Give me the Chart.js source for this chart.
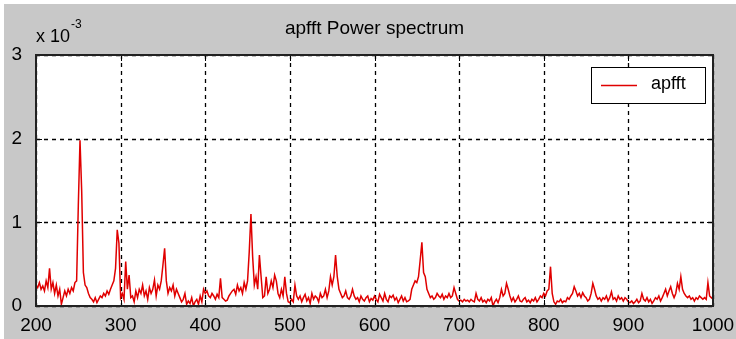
<!DOCTYPE html>
<html>
<head>
<meta charset="utf-8">
<title>apfft Power spectrum</title>
<script src="https://cdn.jsdelivr.net/npm/chart.js@4.4.1/dist/chart.umd.min.js"></script>
<style>
  html, body { margin: 0; padding: 0; background: #ffffff; }
  #wrap { width: 736px; height: 339px; }
</style>
</head>
<body>
<div id="wrap"><canvas id="spectrum" width="736" height="339"></canvas></div>
<script>
// frequency axis: 200 .. 1000, step 2
var freqStart = 200;
var freqStep = 2;

// power values, in units of 1e-3 (5 values per 10 Hz)
var power = [
    0.25, 0.22, 0.28, 0.20, 0.24,   0.18, 0.30, 0.22, 0.45, 0.20,  // 200
    0.28, 0.15, 0.25, 0.12, 0.20,   0.02, 0.10, 0.18, 0.12, 0.20,  // 220
    0.15, 0.22, 0.18, 0.28, 0.30,   1.20, 1.98, 1.37, 0.40, 0.25,  // 240
    0.22, 0.15, 0.10, 0.08, 0.05,   0.10, 0.04, 0.08, 0.12, 0.10,  // 260
    0.15, 0.12, 0.18, 0.14, 0.20,   0.25, 0.30, 0.45, 0.91, 0.75,  // 280
    0.10, 0.15, 0.08, 0.53, 0.20,   0.37, 0.10, 0.12, 0.05, 0.18,  // 300
    0.10, 0.20, 0.15, 0.25, 0.12,   0.18, 0.08, 0.22, 0.15, 0.20,  // 320
    0.31, 0.12, 0.25, 0.20, 0.30,   0.49, 0.69, 0.30, 0.15, 0.22,  // 340
    0.18, 0.25, 0.12, 0.20, 0.15,   0.10, 0.05, 0.08, 0.15, 0.02,  // 360
    0.06, 0.03, 0.10, 0.00, 0.05,   0.08, 0.02, 0.12, 0.05, 0.20,  // 380
    0.15, 0.18, 0.12, 0.10, 0.15,   0.12, 0.08, 0.14, 0.10, 0.33,  // 400
    0.10, 0.08, 0.06, 0.07, 0.12,   0.15, 0.18, 0.20, 0.14, 0.25,  // 420
    0.18, 0.22, 0.15, 0.28, 0.20,   0.30, 0.65, 1.10, 0.59, 0.25,  // 440
    0.35, 0.20, 0.61, 0.35, 0.10,   0.12, 0.35, 0.15, 0.20, 0.30,  // 460
    0.22, 0.37, 0.30, 0.15, 0.10,   0.20, 0.12, 0.35, 0.15, 0.05,  // 480
    0.04, 0.08, 0.05, 0.25, 0.12,   0.08, 0.12, 0.05, 0.10, 0.14,  // 500
    0.06, 0.10, 0.03, 0.15, 0.08,   0.12, 0.10, 0.05, 0.15, 0.10,  // 520
    0.12, 0.20, 0.10, 0.18, 0.35,   0.25, 0.35, 0.61, 0.35, 0.20,  // 540
    0.15, 0.10, 0.12, 0.18, 0.10,   0.08, 0.12, 0.20, 0.12, 0.08,  // 560
    0.10, 0.05, 0.12, 0.08, 0.06,   0.10, 0.12, 0.05, 0.09, 0.07,  // 580
    0.12, 0.08, 0.05, 0.14, 0.10,   0.06, 0.15, 0.08, 0.05, 0.12,  // 600
    0.10, 0.13, 0.07, 0.10, 0.04,   0.08, 0.12, 0.06, 0.10, 0.05,  // 620
    0.06, 0.08, 0.20, 0.25, 0.30,   0.28, 0.35, 0.55, 0.76, 0.40,  // 640
    0.35, 0.20, 0.15, 0.10, 0.12,   0.08, 0.10, 0.15, 0.12, 0.10,  // 660
    0.14, 0.08, 0.12, 0.10, 0.15,   0.10, 0.12, 0.22, 0.15, 0.08,  // 680
    0.06, 0.07, 0.05, 0.08, 0.06,   0.07, 0.05, 0.08, 0.06, 0.05,  // 700
    0.15, 0.08, 0.06, 0.10, 0.05,   0.07, 0.04, 0.08, 0.06, 0.10,  // 720
    0.00, 0.05, 0.08, 0.04, 0.10,   0.20, 0.12, 0.15, 0.27, 0.20,  // 740
    0.12, 0.06, 0.10, 0.05, 0.08,   0.12, 0.06, 0.05, 0.08, 0.10,  // 760
    0.05, 0.07, 0.04, 0.08, 0.06,   0.10, 0.05, 0.08, 0.12, 0.10,  // 780
    0.15, 0.12, 0.18, 0.20, 0.47,   0.15, 0.05, 0.02, 0.06, 0.05,  // 800
    0.08, 0.04, 0.06, 0.05, 0.10,   0.08, 0.12, 0.15, 0.23, 0.18,  // 820
    0.12, 0.15, 0.10, 0.16, 0.12,   0.10, 0.06, 0.08, 0.15, 0.27,  // 840
    0.20, 0.12, 0.08, 0.10, 0.06,   0.10, 0.08, 0.12, 0.06, 0.10,  // 860
    0.17, 0.08, 0.10, 0.06, 0.12,   0.08, 0.10, 0.06, 0.10, 0.08,  // 880
    0.05, 0.04, 0.06, 0.03, 0.05,   0.08, 0.04, 0.06, 0.15, 0.08,  // 900
    0.06, 0.10, 0.05, 0.08, 0.03,   0.06, 0.10, 0.08, 0.12, 0.06,  // 920
    0.10, 0.15, 0.20, 0.12, 0.18,   0.23, 0.15, 0.10, 0.15, 0.27,  // 940
    0.20, 0.35, 0.20, 0.15, 0.12,   0.10, 0.12, 0.08, 0.10, 0.06,  // 960
    0.10, 0.08, 0.12, 0.10, 0.08,   0.10, 0.08, 0.28, 0.12, 0.10,  // 980
    0.08                                                            // 1000
];

var xTicks = [200, 300, 400, 500, 600, 700, 800, 900, 1000];
var yTicks = [0, 1, 2, 3];
var seriesName = "apfft";
var chartTitle = "apfft Power spectrum";
var yExponent = "-3";

var points = [];
for (var i = 0; i < power.length; i++) {
    points.push({ x: freqStart + i * freqStep, y: power[i] });
}

var FONT = "'Liberation Sans', Arial, sans-serif";

// figure background, dashed grid, box, inward ticks, title, exponent and legend
var matlabLook = {
    id: "matlabLook",
    beforeDraw: function (chart) {
        var ctx = chart.ctx;
        var a = chart.chartArea;
        ctx.save();
        ctx.fillStyle = "#ffffff";
        ctx.fillRect(0, 0, chart.width, chart.height);
        ctx.fillStyle = "#c8c8c8";
        ctx.fillRect(4, 4, chart.width - 4, chart.height - 4);
        ctx.fillStyle = "#ffffff";
        ctx.fillRect(a.left, a.top, a.right - a.left, a.bottom - a.top);
        ctx.restore();
    },
    beforeDatasetsDraw: function (chart) {
        var ctx = chart.ctx;
        var a = chart.chartArea;
        var xs = chart.scales.x, ys = chart.scales.y;
        ctx.save();
        ctx.strokeStyle = "#000000";
        ctx.lineWidth = 1.3;
        ctx.setLineDash([4, 4]);
        ctx.beginPath();
        xTicks.forEach(function (v) {
            var px = Math.round(xs.getPixelForValue(v)) + 0.5;
            ctx.moveTo(px, a.top); ctx.lineTo(px, a.bottom);
        });
        yTicks.forEach(function (v) {
            var py = Math.round(ys.getPixelForValue(v)) + 0.5;
            ctx.moveTo(a.left, py); ctx.lineTo(a.right, py);
        });
        ctx.stroke();
        ctx.restore();
    },
    afterDraw: function (chart) {
        var ctx = chart.ctx;
        var a = chart.chartArea;
        var xs = chart.scales.x, ys = chart.scales.y;
        ctx.save();

        // inward tick marks
        ctx.strokeStyle = "#000000";
        ctx.lineWidth = 1;
        ctx.setLineDash([]);
        ctx.beginPath();
        xTicks.forEach(function (v) {
            var px = Math.round(xs.getPixelForValue(v)) + 0.5;
            ctx.moveTo(px, a.top); ctx.lineTo(px, a.top + 6);
            ctx.moveTo(px, a.bottom); ctx.lineTo(px, a.bottom - 6);
        });
        yTicks.forEach(function (v) {
            var py = Math.round(ys.getPixelForValue(v)) + 0.5;
            ctx.moveTo(a.left, py); ctx.lineTo(a.left + 6, py);
            ctx.moveTo(a.right, py); ctx.lineTo(a.right - 6, py);
        });
        ctx.stroke();

        // axes box
        ctx.strokeStyle = "#222222";
        ctx.lineWidth = 2;
        ctx.strokeRect(a.left, a.top, a.right - a.left, a.bottom - a.top);

        // title
        ctx.fillStyle = "#000000";
        ctx.font = "19px " + FONT;
        ctx.textAlign = "center";
        ctx.textBaseline = "middle";
        ctx.fillText(chartTitle, (a.left + a.right) / 2, 29);

        // exponent label
        ctx.textAlign = "left";
        ctx.font = "18px " + FONT;
        ctx.fillText("x 10", 36, 37);
        var w = ctx.measureText("x 10").width;
        ctx.font = "12px " + FONT;
        ctx.fillText(yExponent, 36 + w + 1, 25);

        // legend box
        var ds = chart.data.datasets[0];
        var bx = a.right - 122, by = a.top + 12, bw = 114, bh = 36;
        ctx.fillStyle = "#ffffff";
        ctx.fillRect(bx, by, bw, bh);
        ctx.strokeStyle = "#000000";
        ctx.lineWidth = 1;
        ctx.strokeRect(bx + 0.5, by + 0.5, bw, bh);
        ctx.strokeStyle = ds.borderColor;
        ctx.lineWidth = 1.5;
        ctx.beginPath();
        ctx.moveTo(bx + 10, by + 18.5);
        ctx.lineTo(bx + 46, by + 18.5);
        ctx.stroke();
        ctx.fillStyle = "#000000";
        ctx.font = "18px " + FONT;
        ctx.textBaseline = "middle";
        ctx.fillText(ds.label, bx + 60, by + 17);

        ctx.restore();
    }
};

var ctx = document.getElementById("spectrum").getContext("2d");
new Chart(ctx, {
    type: "line",
    data: {
        datasets: [{
            label: seriesName,
            data: points,
            borderColor: "#e00000",
            borderWidth: 1.5,
            pointRadius: 0,
            tension: 0,
            fill: false
        }]
    },
    options: {
        responsive: false,
        animation: false,
        layout: { padding: { top: 55, right: 23, left: 0, bottom: 0 } },
        plugins: {
            legend: { display: false },
            tooltip: { enabled: false },
            title: { display: false }
        },
        scales: {
            x: {
                type: "linear",
                min: 200,
                max: 1000,
                afterBuildTicks: function (scale) {
                    scale.ticks = xTicks.map(function (v) { return { value: v }; });
                },
                afterFit: function (scale) { scale.height = 33; },
                grid: { display: false },
                border: { display: false },
                ticks: {
                    color: "#000000",
                    font: { family: FONT, size: 19 },
                    padding: 0,
                    maxRotation: 0,
                    callback: function (v) { return String(v); }
                }
            },
            y: {
                min: 0,
                max: 3,
                afterBuildTicks: function (scale) {
                    scale.ticks = yTicks.map(function (v) { return { value: v }; });
                },
                afterFit: function (scale) { scale.width = 36; },
                grid: { display: false },
                border: { display: false },
                ticks: {
                    color: "#000000",
                    font: { family: FONT, size: 19 },
                    padding: 6,
                    callback: function (v) { return String(v); }
                }
            }
        }
    },
    plugins: [matlabLook]
});
</script>
</body>
</html>
